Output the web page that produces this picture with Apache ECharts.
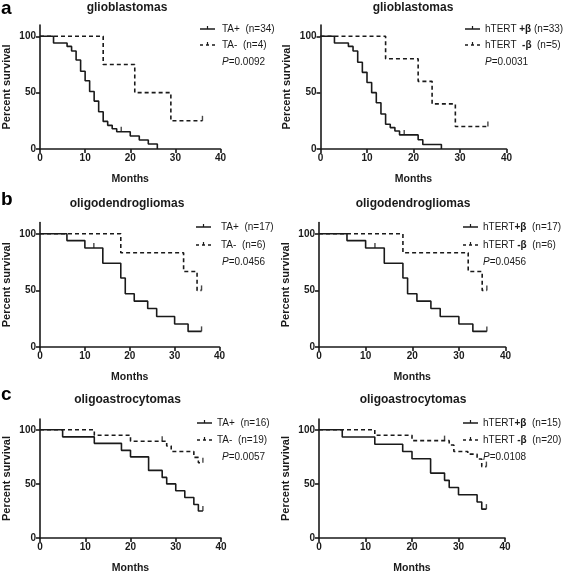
<!DOCTYPE html>
<html>
<head>
<meta charset="utf-8">
<script src="https://cdn.jsdelivr.net/npm/echarts@6/dist/echarts.min.js"></script>
<style>html,body{margin:0;padding:0;background:#fff}#c{width:567px;height:575px}</style>
</head>
<body>
<div id="c"></div>
<script>
// ---- Data (months, percent survival) ----
const xTicks = [0, 10, 20, 30, 40];
const yTicks = [0, 50, 100];

const glioTApos = [[0,100],[3,94],[6,91],[7,87],[8,79],[9,69],[10,60.5],[11,51],[12,42.5],[13,33],[14,24.5],[15,21],[16,18],[17,15.3],[20,11.5],[22,8],[24,4.4],[26,0]];
const glioTAneg = [[0,100],[14,75],[21,50],[29,25],[36,25]];
const glioHpos = [[0,100],[3,94],[6,91],[7,87],[8,77],[9,68],[10,59],[11,50],[12,41],[13,31],[14,22],[15,19],[16,16],[17,12.5],[21,8.2],[22,4],[26,0]];
const glioHneg = [[0,100],[14,80],[21,60],[24,40],[29,20],[36,20]];

const oligoTApos = [[0,100],[6,94],[10,87.5],[14,74],[18,61],[19,47],[21,40.5],[24,34],[26,27],[30,20.3],[33,13.8],[36,13.8]];
const oligoTAneg = [[0,100],[18,83.3],[32,66.7],[35,50],[36,50]];
const oligoHpos = [[0,100],[6,94],[10,87.5],[14,74],[18,61],[19,47],[21,40.5],[24,34],[26,27],[30,20.3],[33,13.8],[36,13.8]];
const oligoHneg = [[0,100],[18,83.3],[32,66.7],[35,50],[36,50]];

const oaTApos = [[0,100],[5,93.5],[12,87.5],[18,81],[20,75],[24,62.5],[27,56],[28,50],[30,43.7],[32,37.5],[34,31],[35,25],[36,25]];
const oaTAneg = [[0,100],[12,95],[20,89.5],[28,85],[29,80],[34,74.5],[35,69.5],[36,69.5]];
const oaHpos = [[0,100],[5,93.3],[12,86.7],[18,80],[20,73.3],[24,60],[27,53.3],[28,46.7],[30,40],[34,33.3],[35,26.7],[36,26.7]];
const oaHneg = [[0,100],[12,95],[20,90],[28,86],[29,80],[32,77.5],[34,73],[35,66],[36,66]];

// censored observations
const censGlioTApos = [[18,15.3]];
const censGlioTAneg = [[36,25]];
const censGlioHpos = [[18,12.5]];
const censGlioHneg = [[36,20]];
const censOligoTApos = [[12,87.5],[36,13.8]];
const censOligoTAneg = [[36,50]];
const censOligoHpos = [[12,87.5],[36,13.8]];
const censOligoHneg = [[36,50]];
const censOaTApos = [[36,25]];
const censOaTAneg = [[27,89.5],[36,69.5]];
const censOaHpos = [[36,26.7]];
const censOaHneg = [[27,90],[36,66]];

const titles = ['glioblastomas','glioblastomas','oligodendrogliomas','oligodendrogliomas','oligoastrocytomas','oligoastrocytomas'];
const letters = ['a','b','c'];
const legendSolid = ['TA+  (n=34)','hTERT {b|+β} (n=33)','TA+  (n=17)','hTERT{b|+β}  (n=17)','TA+  (n=16)','hTERT{b|+β}  (n=15)'];
const legendDash = ['TA-  (n=4)','hTERT  {b|-β}  (n=5)','TA-  (n=6)','hTERT {b|-β}  (n=6)','TA-  (n=19)','hTERT {b|-β}  (n=20)'];
const pValues = ['0.0092','0.0031','0.0456','0.0456','0.0057','0.0108'];

const curves = [
  [glioTApos, glioTAneg, censGlioTApos, censGlioTAneg],
  [glioHpos, glioHneg, censGlioHpos, censGlioHneg],
  [oligoTApos, oligoTAneg, censOligoTApos, censOligoTAneg],
  [oligoHpos, oligoHneg, censOligoHpos, censOligoHneg],
  [oaTApos, oaTAneg, censOaTApos, censOaTAneg],
  [oaHpos, oaHneg, censOaHpos, censOaHneg]
];

// ---- Layout ----
const FONT = '"Liberation Sans", Arial, Helvetica, sans-serif';
const INK = '#1a1a1a';
const LFS = 10;
const grids = [
  {left:34.5, top:25,    width:186, height:124},
  {left:320.5,top:25,    width:186, height:124},
  {left:33.5, top:222.5, width:186, height:124.5},
  {left:319,  top:222.5, width:186.5, height:124.5},
  {left:34.5, top:419,   width:186.5, height:124.5},
  {left:319,  top:419,   width:186, height:124.5}
];
const titlePos = [[127,8],[413,8],[127,204],[413,204],[127.5,400],[413,400]];
const letterPos = [[1,9],[1,200],[1,395]];
const legendPos = [
  {mx:200, tx:222, px:222, y:[29,45,62]},
  {mx:465, tx:485, px:485, y:[29,45,62]},
  {mx:196, tx:221, px:222, y:[227,245,262]},
  {mx:463, tx:483, px:483, y:[227,245,262]},
  {mx:197, tx:217, px:222, y:[423,440,457]},
  {mx:463, tx:483, px:483, y:[423,440,457]}
];

const xAxes = [], yAxes = [], series = [], graphics = [];
grids.forEach((g, i) => {
  xAxes.push({
    type:'value', gridIndex:i, min:0, max:40, interval:10,
    name:'Months', nameLocation:'middle', nameGap:25,
    nameTextStyle:{fontFamily:FONT, fontWeight:'bold', fontSize:10.5, color:INK},
    axisLine:{show:true, onZero:false, lineStyle:{color:INK, width:1.6}},
    axisTick:{show:true, length:4, lineStyle:{color:INK, width:1.6}, customValues:xTicks},
    axisLabel:{fontFamily:FONT, fontWeight:'bold', fontSize:10, color:INK, margin:4, customValues:xTicks},
    splitLine:{show:false}
  });
  yAxes.push({
    type:'value', gridIndex:i, min:0, max:110,
    name:'Percent survival', nameLocation:'middle', nameGap:28, nameRotate:90,
    nameTextStyle:{fontFamily:FONT, fontWeight:'bold', fontSize:11, color:INK},
    axisLine:{show:true, onZero:false, lineStyle:{color:INK, width:1.6}},
    axisTick:{show:true, length:4, lineStyle:{color:INK, width:1.6}, customValues:yTicks},
    axisLabel:{fontFamily:FONT, fontWeight:'bold', fontSize:10, color:INK, margin:4, customValues:yTicks},
    splitLine:{show:false}
  });
  const [pos, neg, cp, cn] = curves[i];
  series.push({type:'line', xAxisIndex:i, yAxisIndex:i, data:pos, step:'end', symbol:'none',
    lineStyle:{color:INK, width:1.6, type:'solid'}, silent:true, animation:false, z:3});
  series.push({type:'line', xAxisIndex:i, yAxisIndex:i, data:neg, step:'end', symbol:'none',
    lineStyle:{color:INK, width:1.6, type:[4,3]}, silent:true, animation:false, z:3});
  series.push({type:'scatter', xAxisIndex:i, yAxisIndex:i, data:cp, symbol:'rect', symbolSize:[1.4,5],
    symbolOffset:[0,-2.5], itemStyle:{color:INK}, silent:true, animation:false});
  series.push({type:'scatter', xAxisIndex:i, yAxisIndex:i, data:cn, symbol:'rect', symbolSize:[1.4,5],
    symbolOffset:[0,-2.5], itemStyle:{color:INK}, silent:true, animation:false});

  // title
  graphics.push({type:'text', x:titlePos[i][0], y:titlePos[i][1],
    style:{text:titles[i], font:'bold 12px '+FONT, fill:INK, align:'center', verticalAlign:'middle'}});
  // legend
  const L = legendPos[i];
  graphics.push({type:'line', shape:{x1:L.mx, y1:L.y[0], x2:L.mx+15, y2:L.y[0]}, style:{stroke:INK, lineWidth:1.5}});
  graphics.push({type:'line', shape:{x1:L.mx+7.5, y1:L.y[0]-3, x2:L.mx+7.5, y2:L.y[0]}, style:{stroke:INK, lineWidth:1.2}});
  graphics.push({type:'line', shape:{x1:L.mx, y1:L.y[1], x2:L.mx+15, y2:L.y[1]}, style:{stroke:INK, lineWidth:1.5, lineDash:[3,3]}});
  graphics.push({type:'line', shape:{x1:L.mx+7.5, y1:L.y[1]-3, x2:L.mx+7.5, y2:L.y[1]}, style:{stroke:INK, lineWidth:1.2}});
  const rich = {b:{fontFamily:FONT, fontWeight:'bold', fontSize:LFS, fill:INK}};
  graphics.push({type:'text', x:L.tx, y:L.y[0], style:{text:legendSolid[i], fontFamily:FONT, fontSize:LFS, fill:INK, verticalAlign:'middle', rich:rich}});
  graphics.push({type:'text', x:L.tx, y:L.y[1], style:{text:legendDash[i], fontFamily:FONT, fontSize:LFS, fill:INK, verticalAlign:'middle', rich:rich}});
  graphics.push({type:'text', x:L.px, y:L.y[2], style:{text:'{i|P}=' + pValues[i], fontFamily:FONT, fontSize:LFS, fill:INK, verticalAlign:'middle',
    rich:{i:{fontFamily:FONT, fontStyle:'italic', fontSize:LFS, fill:INK}}}});
});
letters.forEach((t, k) => {
  graphics.push({type:'text', x:letterPos[k][0], y:letterPos[k][1],
    style:{text:t, font:'bold 19px '+FONT, fill:'#000', verticalAlign:'middle'}});
});

const chart = echarts.init(document.getElementById('c'), null, {renderer:'canvas'});
chart.setOption({
  animation:false,
  backgroundColor:'#fff',
  grid: grids.map(g => Object.assign({containLabel:false}, g)),
  xAxis: xAxes,
  yAxis: yAxes,
  series: series,
  graphic: graphics
});
</script>
</body>
</html>
